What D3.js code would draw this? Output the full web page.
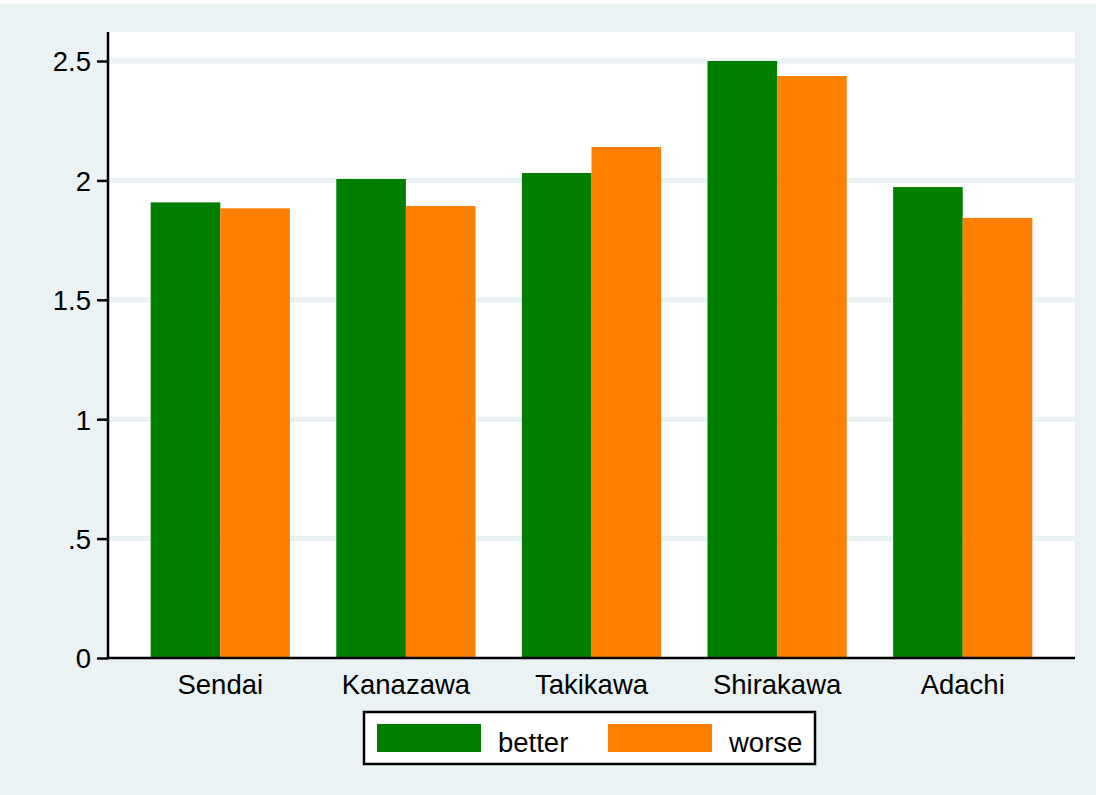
<!DOCTYPE html>
<html>
<head>
<meta charset="utf-8">
<script src="https://cdn.jsdelivr.net/npm/d3@7"></script>
<style>
  body { margin: 0; background: #fff; }
  text { font-family: "Liberation Sans", Arial, sans-serif; }
</style>
</head>
<body>
<svg id="chart"></svg>
<script>
const cities = ["Sendai", "Kanazawa", "Takikawa", "Shirakawa", "Adachi"];
const seriesNames = ["better", "worse"];
const better = [1.908, 2.006, 2.031, 2.500, 1.972];
const worse = [1.883, 1.893, 2.140, 2.437, 1.843];
const yTicks = [0, 0.5, 1, 1.5, 2, 2.5];
const yTickLabels = ["0", ".5", "1", "1.5", "2", "2.5"];
const colors = ["#007f00", "#ff7f00"];

const width = 1096, height = 795;
const plot = { left: 108, right: 1075, top: 32, bottom: 658 };
const fontSize = 27.5;

const svg = d3.select("#chart")
    .attr("width", width)
    .attr("height", height);

svg.append("rect")
    .attr("x", 0).attr("y", 4)
    .attr("width", width).attr("height", height - 4)
    .attr("fill", "#eaf2f3");

svg.append("rect")
    .attr("x", plot.left).attr("y", plot.top)
    .attr("width", plot.right - plot.left).attr("height", plot.bottom - plot.top)
    .attr("fill", "#fff");

const y = d3.scaleLinear()
    .domain([0, 2.5])
    .range([plot.bottom, 61]);

const x0 = d3.scaleBand()
    .domain(cities)
    .range([plot.left, plot.right])
    .paddingInner(0.25)
    .paddingOuter(0.23);

const x1 = d3.scaleBand()
    .domain(seriesNames)
    .range([0, x0.bandwidth()]);

// gridlines
svg.append("g")
    .selectAll("line")
    .data(yTicks.filter(d => d > 0))
    .join("line")
    .attr("x1", plot.left).attr("x2", plot.right)
    .attr("y1", d => y(d)).attr("y2", d => y(d))
    .attr("stroke", "#eaf2f3")
    .attr("stroke-width", 5);

// bars
const rows = cities.map((c, i) => ({ city: c, values: [better[i], worse[i]] }));
svg.append("g")
    .selectAll("g")
    .data(rows)
    .join("g")
    .attr("transform", d => `translate(${x0(d.city)},0)`)
    .selectAll("rect")
    .data(d => d.values.map((v, j) => ({ key: seriesNames[j], value: v, j })))
    .join("rect")
    .attr("x", d => x1(d.key))
    .attr("y", d => y(d.value))
    .attr("width", x1.bandwidth())
    .attr("height", d => y(0) - y(d.value))
    .attr("fill", d => colors[d.j]);

// y axis
const yAxis = d3.axisLeft(y)
    .tickValues(yTicks)
    .tickFormat((d, i) => yTickLabels[i])
    .tickSize(11)
    .tickPadding(6);

const gy = svg.append("g")
    .attr("transform", `translate(${plot.left},0)`)
    .call(yAxis);
gy.select(".domain").attr("d", `M0,${plot.top}V${plot.bottom}`).attr("stroke", "#000").attr("stroke-width", 2.5);
gy.selectAll(".tick line").attr("stroke", "#000").attr("stroke-width", 2.5);
gy.selectAll(".tick text")
    .attr("font-size", fontSize)
    .attr("fill", "#000")
    .attr("dy", "0.36em")
    .style("font-family", "'Liberation Sans', Arial, sans-serif");

// x axis
const xAxis = d3.axisBottom(x0).tickSize(0).tickPadding(16);
const gx = svg.append("g")
    .attr("transform", `translate(0,${plot.bottom})`)
    .call(xAxis);
gx.select(".domain").attr("d", `M${plot.left},0H${plot.right}`).attr("stroke", "#000").attr("stroke-width", 2.5);
gx.selectAll(".tick text")
    .attr("font-size", fontSize)
    .attr("fill", "#000")
    .attr("dy", "0.74em")
    .style("font-family", "'Liberation Sans', Arial, sans-serif");

// legend
const legend = svg.append("g").attr("transform", "translate(364,712)");
legend.append("rect")
    .attr("width", 451).attr("height", 52)
    .attr("fill", "#fff")
    .attr("stroke", "#000")
    .attr("stroke-width", 2.5);

const items = legend.selectAll("g.item")
    .data(seriesNames)
    .join("g")
    .attr("class", "item")
    .attr("transform", (d, i) => `translate(${13 + i * 231},12)`);
items.append("rect")
    .attr("width", 104).attr("height", 28)
    .attr("fill", (d, i) => colors[i]);
items.append("text")
    .attr("x", 121).attr("y", 28)
    .attr("font-size", fontSize)
    .attr("fill", "#000")
    .text(d => d);
</script>
</body>
</html>
